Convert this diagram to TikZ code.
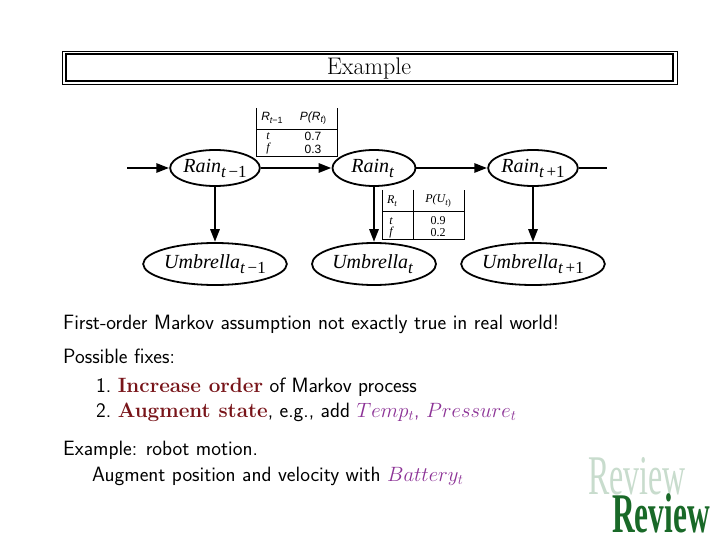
\documentclass[tikz,border=0pt]{standalone}
\usepackage{fix-cm}
\usepackage{fontspec}
\newfontfamily\tms{Liberation Serif}
\newfontfamily\hlv{Liberation Sans}
\usetikzlibrary{arrows.meta,shapes.geometric}
\definecolor{maroon}{RGB}{120,20,25}
\definecolor{purp}{RGB}{140,50,150}
\definecolor{lgreen}{RGB}{200,220,205}
\definecolor{dgreen}{RGB}{25,105,40}
\newcommand\lbl[3]{{\tms\itshape #1}\raisebox{-5pt}{\fontsize{17}{17}\selectfont\tms\itshape #2\,\upshape #3}}
\newcommand\slbl[3]{{\hlv\itshape #1}\raisebox{-2.5pt}{\fontsize{9}{9}\selectfont\hlv\itshape #2\upshape #3}}
\newcommand\tlbl[3]{{\tms\itshape #1}\raisebox{-2.5pt}{\fontsize{9}{9}\selectfont\tms\itshape #2\upshape #3}}
\begin{document}
\begin{tikzpicture}[x=1pt,y=-1pt,
  rnode/.style={ellipse, draw, line width=1.8pt, minimum width=83pt, minimum height=36pt, inner sep=0pt, font=\fontsize{20}{20}\selectfont},
  unode/.style={ellipse, draw, line width=1.8pt, minimum width=124pt, minimum height=42pt, inner sep=0pt, font=\fontsize{20}{20}\selectfont},
  arr/.style={line width=2.8pt, -{Triangle[length=13pt,width=9pt]}},
  plain/.style={line width=2.8pt},
  tline/.style={line width=0.7pt},
  txt/.style={anchor=base west, inner sep=0pt, font=\sffamily\fontsize{20.7}{25}\selectfont},
  ttxt/.style={inner sep=0pt, font=\fontsize{12}{12}\selectfont},
  rev/.style={anchor=base west, inner sep=0pt}]
\useasboundingbox (0,0) rectangle (720,540);
\fill[white] (0,0) rectangle (720,540);
% title box
\draw[line width=0.9pt] (62,51) rectangle (677,84);
\draw[line width=1.3pt] (66,54) rectangle (673,81);
\node[anchor=base, inner sep=0pt, font=\rmfamily\fontsize{24}{24}\selectfont] (title) at (369,75) {Example};
% table 1
\draw[tline] (256,108) -- (256,156) -- (337,156) -- (337,108);
\draw[tline] (256,129) -- (337,129);
\node[ttxt] (h1a) at (272,118) {\slbl{R}{t}{−1}};
\node[ttxt] (h1b) at (313,118) {\slbl{P(R}{t}{)}};
\begin{scope}
\clip (256,129) rectangle (337,155.5);
\node[ttxt] (c1a) at (268,136) {\tms\itshape t};
\node[ttxt] (c1b) at (313,136) {\hlv 0.7};
\node[ttxt] (c1c) at (268,149) {\tms\itshape f};
\node[ttxt] (c1d) at (313,149) {\hlv 0.3};
\end{scope}
% table 2
\draw[tline] (382,190) -- (382,239) -- (464,239) -- (464,190);
\draw[tline] (382,211) -- (464,211);
\draw[tline] (413,190) -- (413,239);
\node[ttxt] (h2a) at (392,201) {\tlbl{R}{t}{}};
\node[ttxt] (h2b) at (438,201) {\tlbl{P(U}{t}{)}};
\begin{scope}
\clip (382,211) rectangle (464,238.5);
\node[ttxt] (c2a) at (391,221) {\tms\itshape t};
\node[ttxt] (c2b) at (438,221) {\tms 0.9};
\node[ttxt] (c2c) at (391,233) {\tms\itshape f};
\node[ttxt] (c2d) at (438,233) {\tms 0.2};
\end{scope}
% nodes
\node[rnode] (r1) at (215,168) {\lbl{Rain}{t}{−1}};
\node[rnode] (r2) at (374,168) {\lbl{Rain}{t}{}};
\node[rnode] (r3) at (533,168) {\lbl{Rain}{t}{+1}};
\node[unode] (u1) at (215,264) {\lbl{Umbrella}{t}{−1}};
\node[unode] (u2) at (374,264) {\lbl{Umbrella}{t}{}};
\node[unode] (u3) at (533,264) {\lbl{Umbrella}{t}{+1}};
\coordinate (in) at (127,168);
\coordinate (out) at (607,168);
\draw[arr] (in) -- (r1);
\draw[arr] (r1) -- (r2);
\draw[arr] (r2) -- (r3);
\draw[plain] (r3) -- (out);
\draw[arr] (r1) -- (u1);
\draw[arr] (r2) -- (u2);
\draw[arr] (r3) -- (u3);
% text
\node[txt] (l1) at (63,329) {First-order Markov assumption not exactly true in real world!};
\node[txt] (l2) at (63,363) {Possible fixes:};
\node[txt] (l3) at (96,392) {1.\ \textcolor{maroon}{\rmfamily\bfseries Increase order} of Markov process};
\node[txt] (l4) at (96,417) {2.\ \textcolor{maroon}{\rmfamily\bfseries Augment state}, e.g., add \textcolor{purp}{$Temp_t$, $Pressure_t$}};
\node[txt] (l5) at (63,455) {Example: robot motion.};
\node[txt] (l6) at (92,481) {Augment position and velocity with \textcolor{purp}{$Battery_t$}};
% review logo
\node[rev, text=lgreen] (rv1) at (588,494) {\scalebox{0.57}[1]{\tms\fontsize{56}{56}\selectfont Review}};
\node[rev, text=dgreen] (rv2) at (612,532) {\scalebox{0.56}[1]{\tms\bfseries\fontsize{56}{56}\selectfont Review}};
\end{tikzpicture}
\end{document}
